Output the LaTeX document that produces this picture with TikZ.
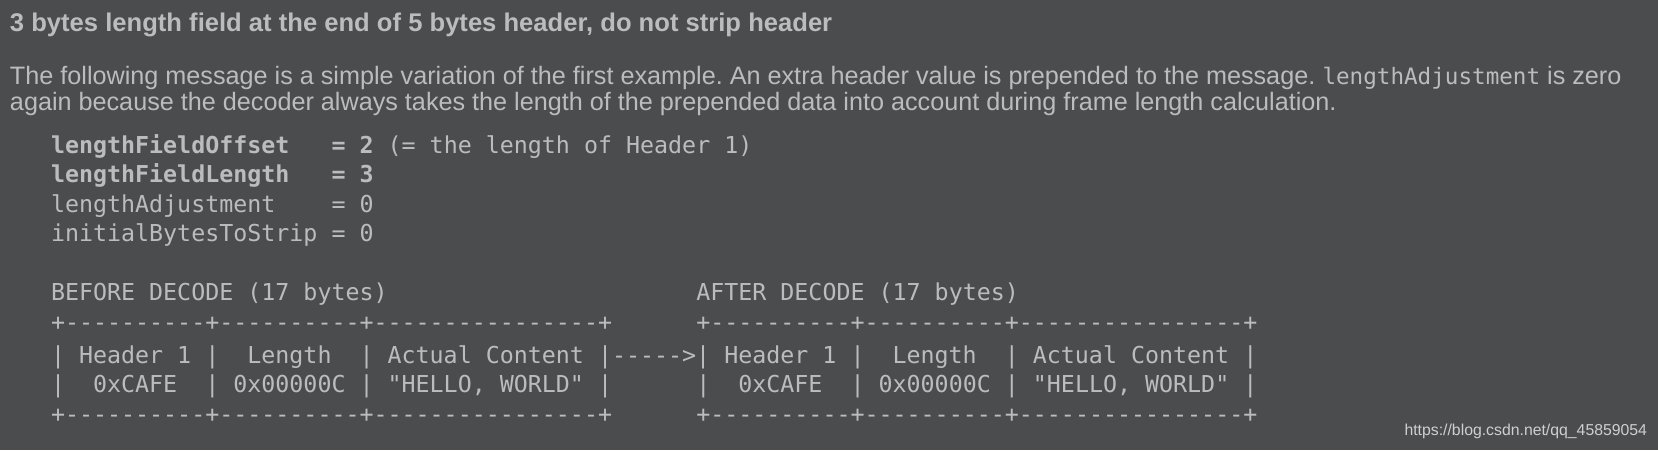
\documentclass[tikz,border=0pt]{standalone}
\usepackage{fontspec}
\setmainfont{Liberation Sans}
\setmonofont{DejaVu Sans Mono}
\definecolor{bg}{HTML}{4B4C4E}
\definecolor{fg}{HTML}{BCBCBC}
\definecolor{wm}{HTML}{CFCFCF}
\tikzset{
  txt/.style={anchor=base west, inner sep=0pt, outer sep=0pt, text=fg},
  titletxt/.style={txt, font=\fontsize{12.8}{15}\selectfont\bfseries},
  paratxt/.style={txt, font=\fontsize{12.6}{15}\selectfont},
  codetxt/.style={txt, font=\fontsize{11.65}{14}\selectfont\ttfamily},
  watermark/.style={anchor=base east, inner sep=0pt, outer sep=0pt, text=wm, font=\fontsize{7.9}{9}\selectfont},
}
\newcommand{\inl}[1]{{\fontsize{11.3}{14}\selectfont\ttfamily #1}}
\begin{document}
\begin{tikzpicture}[x=0.5pt,y=-0.5pt]
\fill[bg] (0,0) rectangle (1658,450);
\useasboundingbox (0,0) rectangle (1658,450);
\node[titletxt] (title) at (10,31.5) {3 bytes length field at the end of 5 bytes header, do not strip header};
\node[paratxt] (p1) at (10,84) {The following message is a simple variation of the first example.\ An extra header value is prepended to the message.\ \inl{lengthAdjustment} is zero};
\node[paratxt] (p2) at (10,110) {again because the decoder always takes the length of the prepended data into account during frame length calculation.};
\node[codetxt] (c1) at (51,153.3) {\textbf{lengthFieldOffset~~~=~2}~(=~the~length~of~Header~1)};
\node[codetxt] (c2) at (51,182.8) {\textbf{lengthFieldLength~~~=~3}};
\node[codetxt] (c3) at (51,212.3) {lengthAdjustment~~~~=~0};
\node[codetxt] (c4) at (51,241.8) {initialBytesToStrip~=~0};
\node[codetxt] (h) at (51,300.8) {BEFORE~DECODE~(17~bytes)~~~~~~~~~~~~~~~~~~~~~~AFTER~DECODE~(17~bytes)};
\node[codetxt] (t1) at (51,330.3) {+----------+----------+----------------+~~~~~~+----------+----------+----------------+};
\node[codetxt] (t2) at (51,363) {|~Header~1~|~~Length~~|~Actual~Content~|----->|~Header~1~|~~Length~~|~Actual~Content~|};
\node[codetxt] (t3) at (51,392.5) {|~~0xCAFE~~|~0x00000C~|~"HELLO,~WORLD"~|~~~~~~|~~0xCAFE~~|~0x00000C~|~"HELLO,~WORLD"~|};
\node[codetxt] (t4) at (51,422) {+----------+----------+----------------+~~~~~~+----------+----------+----------------+};
\node[watermark] (wm) at (1647,435) {https://blog.csdn.net/qq\_45859054};
\end{tikzpicture}
\end{document}
